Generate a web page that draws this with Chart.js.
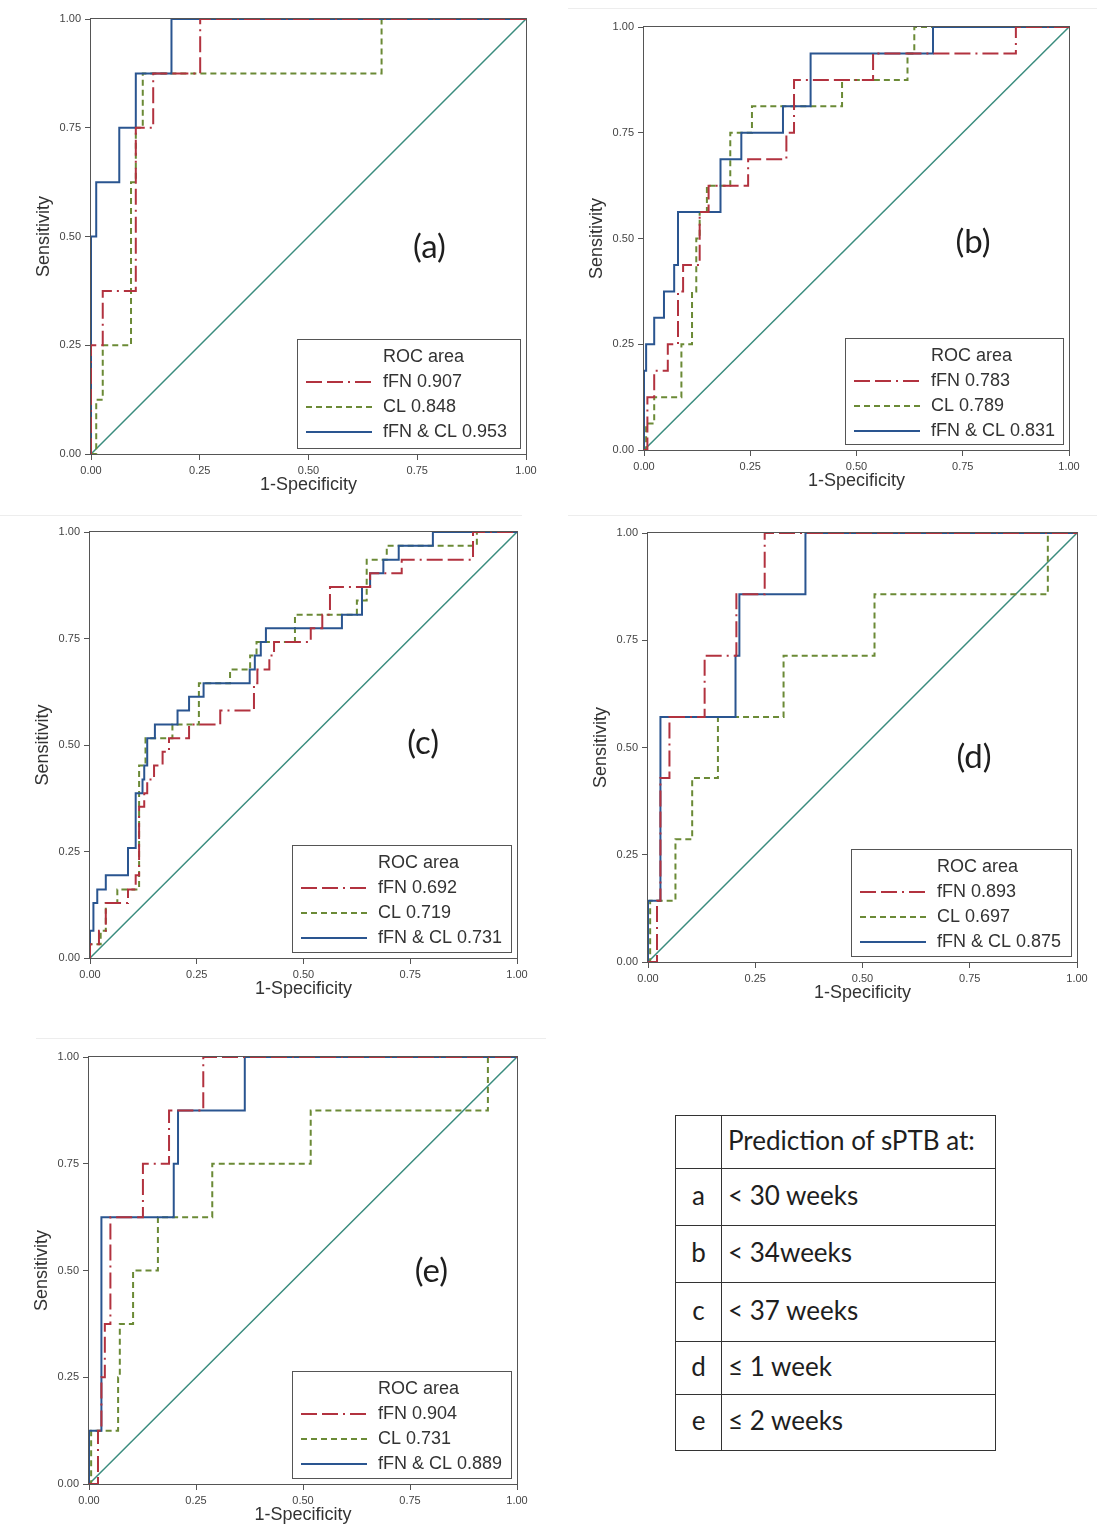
<!DOCTYPE html>
<html>
<head>
<meta charset="utf-8">
<script src="https://cdn.jsdelivr.net/npm/chart.js@4.4.0/dist/chart.umd.min.js"></script>
<style>
  body { margin: 0; background: #fff; width: 1097px; height: 1524px; position: relative; overflow: hidden; }
  canvas { position: absolute; }
  .sep { position: absolute; height: 1px; background: #ededed; }
  table { position: absolute; left: 675px; top: 1115px; width: 321px; border-collapse: collapse;
          font-family: Lato, "Open Sans", sans-serif; font-size: 26px; color: #1e1e1e; }
  td { border: 1px solid #333; padding: 0 0 5px 0; }
  td.k { width: 45px; text-align: center; }
  td.v { padding-left: 6px; }
</style>
</head>
<body>
<div class="sep" style="left:568px;top:8px;width:529px"></div>
<div class="sep" style="left:0;top:515px;width:522px"></div>
<div class="sep" style="left:568px;top:515px;width:529px"></div>
<div class="sep" style="left:36px;top:1038px;width:510px"></div>

<table>
  <tr style="height:53px"><td class="k"></td><td class="v">Prediction of sPTB at:</td></tr>
  <tr style="height:57px"><td class="k">a</td><td class="v">&lt; 30 weeks</td></tr>
  <tr style="height:57px"><td class="k">b</td><td class="v">&lt; 34weeks</td></tr>
  <tr style="height:59px"><td class="k">c</td><td class="v">&lt; 37 weeks</td></tr>
  <tr style="height:53px"><td class="k">d</td><td class="v">≤ 1 week</td></tr>
  <tr style="height:56px"><td class="k">e</td><td class="v">≤ 2 weeks</td></tr>
</table>

<script>
// axis ticks shared by all panels
const tickValues = [0, 0.25, 0.5, 0.75, 1];

// ROC area values per panel (a..e)
const aucFFN  = [0.907, 0.783, 0.692, 0.893, 0.904];
const aucCL   = [0.848, 0.789, 0.719, 0.697, 0.731];
const aucBoth = [0.953, 0.831, 0.731, 0.875, 0.889];

// step curves: x = 1-specificity where the jump happens, y = sensitivity after the jump
// (a) < 30 weeks
const fprA_fFN  = [0, 0, 0.027, 0.103, 0.143, 0.251, 1];
const tprA_fFN  = [0, 0.25, 0.375, 0.75, 0.875, 1, 1];
const fprA_CL   = [0, 0.012, 0.027, 0.092, 0.103, 0.119, 0.668, 1];
const tprA_CL   = [0, 0.125, 0.25, 0.625, 0.75, 0.875, 1, 1];
const fprA_Both = [0, 0, 0.012, 0.065, 0.103, 0.185, 1];
const tprA_Both = [0, 0.5, 0.625, 0.75, 0.875, 1, 1];

// (b) < 34 weeks
const fprB_fFN  = [0, 0.008, 0.024, 0.056, 0.08, 0.092, 0.131, 0.152, 0.245, 0.335, 0.353, 0.539, 0.875, 1];
const tprB_fFN  = [0, 0.125, 0.1875, 0.25, 0.375, 0.4375, 0.5625, 0.625, 0.6875, 0.75, 0.875, 0.9375, 1, 1];
const fprB_CL   = [0, 0.005, 0.024, 0.088, 0.113, 0.123, 0.131, 0.148, 0.203, 0.254, 0.466, 0.62, 0.636, 1];
const tprB_CL   = [0, 0.0625, 0.125, 0.25, 0.375, 0.5, 0.5625, 0.625, 0.75, 0.8125, 0.875, 0.9375, 1, 1];
const fprB_Both = [0, 0, 0.005, 0.024, 0.047, 0.071, 0.08, 0.18, 0.229, 0.327, 0.392, 0.68, 1];
const tprB_Both = [0, 0.1875, 0.25, 0.3125, 0.375, 0.4375, 0.5625, 0.6875, 0.75, 0.8125, 0.9375, 1, 1];

// (c) < 37 weeks
const fprC_fFN  = [0, 0, 0.021, 0.037, 0.089, 0.107, 0.115, 0.127, 0.134, 0.15, 0.17, 0.185, 0.232, 0.305, 0.384, 0.392, 0.42, 0.431, 0.517, 0.544, 0.562, 0.656, 0.73, 0.897, 1];
const tprC_fFN  = [0, 0.032, 0.064, 0.129, 0.161, 0.194, 0.355, 0.387, 0.419, 0.452, 0.484, 0.516, 0.548, 0.581, 0.645, 0.677, 0.71, 0.742, 0.774, 0.806, 0.871, 0.903, 0.935, 1, 1];
const fprC_CL   = [0, 0, 0.025, 0.037, 0.064, 0.115, 0.13, 0.193, 0.255, 0.328, 0.375, 0.39, 0.48, 0.625, 0.648, 0.695, 0.906, 1];
const tprC_CL   = [0, 0.032, 0.064, 0.129, 0.161, 0.452, 0.516, 0.548, 0.645, 0.677, 0.71, 0.742, 0.806, 0.839, 0.935, 0.968, 1, 1];
const fprC_Both = [0, 0, 0.008, 0.017, 0.037, 0.089, 0.107, 0.123, 0.127, 0.134, 0.152, 0.205, 0.232, 0.266, 0.374, 0.386, 0.4, 0.412, 0.59, 0.637, 0.656, 0.687, 0.723, 0.803, 1];
const tprC_Both = [0, 0.064, 0.129, 0.161, 0.194, 0.258, 0.387, 0.419, 0.452, 0.516, 0.548, 0.581, 0.613, 0.645, 0.677, 0.71, 0.742, 0.774, 0.806, 0.871, 0.903, 0.935, 0.968, 1, 1];

// (d) <= 1 week
const fprD_fFN  = [0, 0.021, 0.029, 0.05, 0.132, 0.206, 0.272, 1];
const tprD_fFN  = [0, 0.143, 0.429, 0.571, 0.714, 0.857, 1, 1];
const fprD_CL   = [0, 0.005, 0.064, 0.103, 0.163, 0.316, 0.528, 0.932, 1];
const tprD_CL   = [0, 0.143, 0.286, 0.429, 0.571, 0.714, 0.857, 1, 1];
const fprD_Both = [0, 0, 0.029, 0.204, 0.213, 0.367, 1];
const tprD_Both = [0, 0.143, 0.571, 0.714, 0.857, 1, 1];

// (e) <= 2 weeks
const fprE_fFN  = [0, 0.021, 0.029, 0.037, 0.05, 0.126, 0.187, 0.267, 1];
const tprE_fFN  = [0, 0.125, 0.25, 0.375, 0.625, 0.75, 0.875, 1, 1];
const fprE_CL   = [0, 0.005, 0.068, 0.072, 0.103, 0.161, 0.288, 0.518, 0.932, 1];
const tprE_CL   = [0, 0.125, 0.25, 0.375, 0.5, 0.625, 0.75, 0.875, 1, 1];
const fprE_Both = [0, 0, 0.029, 0.198, 0.208, 0.364, 1];
const tprE_Both = [0, 0.125, 0.625, 0.75, 0.875, 1, 1];

const curves = [
  [fprA_fFN, tprA_fFN, fprA_CL, tprA_CL, fprA_Both, tprA_Both],
  [fprB_fFN, tprB_fFN, fprB_CL, tprB_CL, fprB_Both, tprB_Both],
  [fprC_fFN, tprC_fFN, fprC_CL, tprC_CL, fprC_Both, tprC_Both],
  [fprD_fFN, tprD_fFN, fprD_CL, tprD_CL, fprD_Both, tprD_Both],
  [fprE_fFN, tprE_fFN, fprE_CL, tprE_CL, fprE_Both, tprE_Both]
];

// plot rectangles on the page and where the (x) tag sits inside each plot
const panels = [
  { id: 'a', left: 91,  top: 19,   w: 435, h: 435, lx: 0.778, ly: 0.524 },
  { id: 'b', left: 644, top: 27,   w: 425, h: 423, lx: 0.774, ly: 0.51 },
  { id: 'c', left: 90,  top: 532,  w: 427, h: 426, lx: 0.78,  ly: 0.495 },
  { id: 'd', left: 648, top: 533,  w: 429, h: 429, lx: 0.76,  ly: 0.522 },
  { id: 'e', left: 89,  top: 1057, w: 428, h: 427, lx: 0.8,   ly: 0.503 }
];

const RED = '#b2323f', GREEN = '#6b8a36', BLUE = '#2a5590', TEAL = '#3a8c7e', AXIS = '#555';
const DASH_FFN = [16, 5, 16, 5, 2, 5];
const DASH_CL = [6, 4];
const YW = 75, XH = 45, PT = 12, PR = 22;
const SANS = '"Liberation Sans", Arial, sans-serif';

function toPoints(xs, ys) {
  return xs.map((x, i) => ({ x: x, y: ys[i] }));
}

const framePlugin = {
  id: 'frame',
  beforeDatasetsDraw(chart) {
    const { ctx, chartArea: a } = chart;
    ctx.save();
    ctx.strokeStyle = AXIS;
    ctx.lineWidth = 1;
    ctx.strokeRect(a.left - 0.5, a.top - 0.5, a.right - a.left + 1, a.bottom - a.top + 1);
    ctx.restore();
  }
};

const legendPlugin = {
  id: 'rocLegend',
  afterDatasetsDraw(chart) {
    const { ctx, chartArea: a } = chart;
    const w = Math.round((a.right - a.left) * 0.512);
    const h = Math.round((a.bottom - a.top) * 0.25);
    const x0 = Math.round(a.right - 6 - w);
    const y0 = Math.round(a.bottom - 6 - h);
    ctx.save();
    ctx.fillStyle = '#fff';
    ctx.fillRect(x0, y0, w, h);
    ctx.strokeStyle = AXIS;
    ctx.lineWidth = 1;
    ctx.strokeRect(x0 + 0.5, y0 + 0.5, w, h);
    ctx.font = '18px ' + SANS;
    ctx.fillStyle = '#333';
    ctx.textBaseline = 'middle';
    const tx = x0 + 86;
    ctx.fillText('ROC area', tx, y0 + 18);
    chart.data.datasets.filter(d => d.inLegend).forEach((d, i) => {
      const y = y0 + 43 + i * 25;
      ctx.strokeStyle = d.borderColor;
      ctx.lineWidth = 2;
      ctx.setLineDash(d.borderDash || []);
      ctx.beginPath();
      ctx.moveTo(x0 + 9, y);
      ctx.lineTo(x0 + 75, y);
      ctx.stroke();
      ctx.setLineDash([]);
      ctx.fillText(d.label, tx, y);
    });
    ctx.restore();
  }
};

const tagPlugin = {
  id: 'panelTag',
  afterDraw(chart, args, opts) {
    const { ctx, chartArea: a } = chart;
    ctx.save();
    ctx.font = '33px Lato, "Open Sans", sans-serif';
    ctx.fillStyle = '#1e1e1e';
    ctx.textAlign = 'center';
    ctx.textBaseline = 'middle';
    ctx.fillText('(' + opts.id + ')', a.left + opts.lx * (a.right - a.left), a.top + opts.ly * (a.bottom - a.top));
    ctx.restore();
  }
};

function axis(titleText, isX) {
  return {
    type: 'linear',
    min: 0,
    max: 1,
    afterBuildTicks: s => { s.ticks = tickValues.map(v => ({ value: v })); },
    afterFit: s => { if (isX) s.height = XH; else s.width = YW; },
    ticks: {
      callback: v => Number(v).toFixed(2),
      font: { size: 11, family: SANS },
      color: '#444',
      padding: 4,
      maxRotation: 0,
      autoSkip: false
    },
    grid: { display: true, drawOnChartArea: false, drawTicks: true, tickLength: 6, color: AXIS },
    border: { display: false },
    title: {
      display: true,
      text: titleText,
      color: '#333',
      font: { size: 18, family: SANS },
      padding: isX ? { top: 0, bottom: 3 } : { top: 17, bottom: 0 }
    }
  };
}

panels.forEach((p, k) => {
  const c = curves[k];
  const canvas = document.createElement('canvas');
  const cw = YW + p.w + PR, ch = PT + p.h + XH;
  canvas.width = cw;
  canvas.height = ch;
  canvas.style.left = (p.left - YW) + 'px';
  canvas.style.top = (p.top - PT) + 'px';
  canvas.style.width = cw + 'px';
  canvas.style.height = ch + 'px';
  document.body.appendChild(canvas);

  const base = { stepped: 'before', pointRadius: 0, fill: false, borderWidth: 2,
                 borderJoinStyle: 'miter', borderCapStyle: 'butt' };
  try {
    new Chart(canvas.getContext('2d'), {
      type: 'line',
      data: {
        datasets: [
          Object.assign({}, base, { label: 'fFN ' + aucFFN[k].toFixed(3), data: toPoints(c[0], c[1]),
            borderColor: RED, borderDash: DASH_FFN, order: 1, inLegend: true }),
          Object.assign({}, base, { label: 'CL ' + aucCL[k].toFixed(3), data: toPoints(c[2], c[3]),
            borderColor: GREEN, borderDash: DASH_CL, order: 3, inLegend: true }),
          Object.assign({}, base, { label: 'fFN & CL ' + aucBoth[k].toFixed(3), data: toPoints(c[4], c[5]),
            borderColor: BLUE, order: 2, inLegend: true }),
          { label: 'reference', data: [{ x: 0, y: 0 }, { x: 1, y: 1 }], borderColor: TEAL,
            borderWidth: 1.5, pointRadius: 0, fill: false, order: 4 }
        ]
      },
      options: {
        responsive: false,
        animation: false,
        devicePixelRatio: 1,
        layout: { padding: { top: PT, right: PR, left: 0, bottom: 0 } },
        scales: {
          x: axis('1-Specificity', true),
          y: axis('Sensitivity', false)
        },
        plugins: {
          legend: { display: false },
          tooltip: { enabled: false },
          panelTag: { id: p.id, lx: p.lx, ly: p.ly }
        }
      },
      plugins: [framePlugin, legendPlugin, tagPlugin]
    });
  } catch (e) {
    console.error('Error creating panel ' + p.id + ':', e);
  }
});
</script>
</body>
</html>
